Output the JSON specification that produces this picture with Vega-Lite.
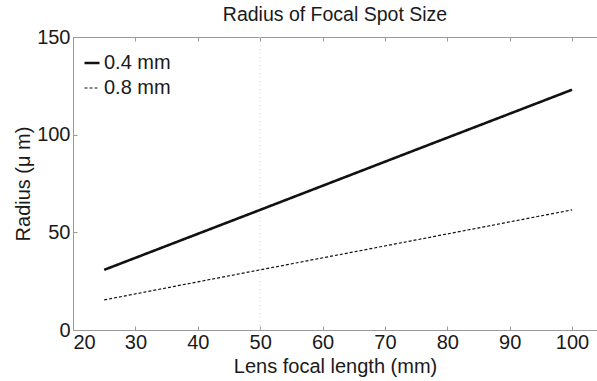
{
  "$schema": "https://vega.github.io/schema/vega-lite/v6.json",
  "width": 524,
  "height": 293,
  "autosize": {"type": "none"},
  "padding": {"left": 73, "top": 37, "right": 0, "bottom": 51},
  "background": "white",
  "title": {"text": "Radius of Focal Spot Size", "font": "Liberation Sans", "fontSize": 19.5, "fontWeight": "normal", "color": "#1a1a1a", "anchor": "middle", "offset": 2},
  "config": {
    "view": {"stroke": null},
    "font": "Liberation Sans"
  },
  "datasets": {
    "lines": [
      {"f": 25, "r": 30.8, "beam": "0.4 mm"},
      {"f": 50, "r": 61.5, "beam": "0.4 mm"},
      {"f": 75, "r": 92.3, "beam": "0.4 mm"},
      {"f": 100, "r": 123, "beam": "0.4 mm"},
      {"f": 25, "r": 15.4, "beam": "0.8 mm"},
      {"f": 50, "r": 30.8, "beam": "0.8 mm"},
      {"f": 75, "r": 46.1, "beam": "0.8 mm"},
      {"f": 100, "r": 61.5, "beam": "0.8 mm"}
    ],
    "vline": [{"f": 50}]
  },
  "resolve": {"axis": {"x": "independent"}},
  "layer": [
    {
      "data": {"name": "vline"},
      "mark": {"type": "rule", "color": "#d4d4d4", "strokeDash": [1, 3], "strokeWidth": 1},
      "encoding": {
        "x": {
          "field": "f", "type": "quantitative", "scale": {"domain": [20, 104], "nice": false},
          "axis": {
            "orient": "top", "title": null, "labels": false, "values": [20, 30, 40, 50, 60, 70, 80, 90, 100],
            "grid": false, "domainColor": "#9a9a9a", "tickColor": "#9a9a9a", "tickSize": -4
          }
        }
      }
    },
    {
      "data": {"name": "lines"},
      "mark": {"type": "line", "color": "#111"},
      "encoding": {
        "x": {
          "field": "f", "type": "quantitative",
          "scale": {"domain": [20, 104], "nice": false},
          "axis": {
            "title": "Lens focal length (mm)", "values": [20, 30, 40, 50, 60, 70, 80, 90, 100],
            "grid": false, "domainColor": "#9a9a9a", "tickColor": "#9a9a9a", "tickSize": -4,
            "labelFontSize": 20, "labelColor": "#1a1a1a", "labelPadding": 6, "labelFont": "Liberation Sans",
            "titleFontSize": 20, "titleFontWeight": "normal", "titleColor": "#1a1a1a", "titleFont": "Liberation Sans",
            "titlePadding": 4
          }
        },
        "y": {
          "field": "r", "type": "quantitative",
          "scale": {"domain": [0, 150], "nice": false},
          "axis": {
            "title": "Radius (μ m)", "values": [0, 50, 100, 150],
            "grid": false, "domainColor": "#9a9a9a", "tickColor": "#9a9a9a", "tickSize": -4,
            "labelFontSize": 20, "labelColor": "#1a1a1a", "labelPadding": 7, "labelFont": "Liberation Sans",
            "titleFontSize": 20, "titleFontWeight": "normal", "titleColor": "#1a1a1a", "titleFont": "Liberation Sans",
            "titlePadding": 3
          }
        },
        "strokeDash": {
          "field": "beam", "type": "nominal",
          "scale": {"domain": ["0.4 mm", "0.8 mm"], "range": [[1, 0], [3, 2]]},
          "legend": {
            "title": null, "orient": "none", "legendX": 9, "legendY": 16,
            "symbolType": "stroke", "symbolSize": 225, "symbolStrokeColor": "#111",
            "labelFontSize": 20, "labelColor": "#1a1a1a", "labelFont": "Liberation Sans",
            "rowPadding": 5, "symbolOffset": 0, "labelOffset": 2
          }
        },
        "strokeWidth": {
          "field": "beam", "type": "nominal",
          "scale": {"domain": ["0.4 mm", "0.8 mm"], "range": [2.6, 1.2]},
          "legend": {
            "title": null, "orient": "none", "legendX": 9, "legendY": 16,
            "symbolType": "stroke", "symbolSize": 225, "symbolStrokeColor": "#111",
            "labelFontSize": 20, "labelColor": "#1a1a1a", "labelFont": "Liberation Sans",
            "rowPadding": 5, "symbolOffset": 0, "labelOffset": 2
          }
        }
      }
    }
  ]
}
